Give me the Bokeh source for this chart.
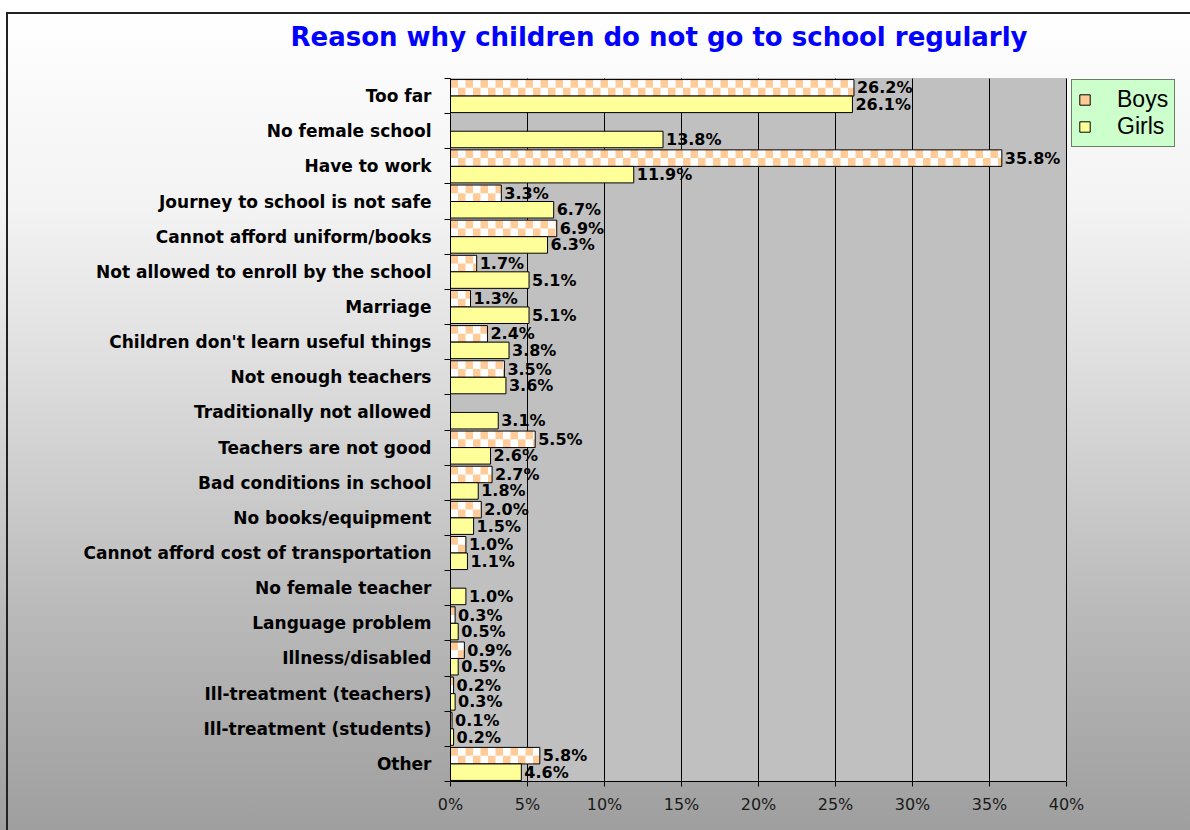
from bokeh.plotting import figure
from bokeh.models import (ColumnDataSource, Range1d, FixedTicker, NumeralTickFormatter,
                          LabelSet, Legend, LegendItem, BoxAnnotation)
from bokeh.core.properties import value
from bokeh.embed import file_html
from bokeh.resources import INLINE

title_text = "Reason why children do not go to school regularly"

categories = [
    "Too far",
    "No female school",
    "Have to work",
    "Journey to school is not safe",
    "Cannot afford uniform/books",
    "Not allowed to enroll by the school",
    "Marriage",
    "Children don't learn useful things",
    "Not enough teachers",
    "Traditionally not allowed",
    "Teachers are not good",
    "Bad conditions in school",
    "No books/equipment",
    "Cannot afford cost of transportation",
    "No female teacher",
    "Language problem",
    "Illness/disabled",
    "Ill-treatment (teachers)",
    "Ill-treatment (students)",
    "Other",
]
boys = [26.2, None, 35.8, 3.3, 6.9, 1.7, 1.3, 2.4, 3.5, None,
        5.5, 2.7, 2.0, 1.0, None, 0.3, 0.9, 0.2, 0.1, 5.8]
girls = [26.1, 13.8, 11.9, 6.7, 6.3, 5.1, 5.1, 3.8, 3.6, 3.1,
         2.6, 1.8, 1.5, 1.1, 1.0, 0.5, 0.5, 0.3, 0.2, 4.6]
x_ticks = [0.0, 0.05, 0.10, 0.15, 0.20, 0.25, 0.30, 0.35, 0.40]
X_MAX = 0.40

# layout (pixels)
W, H = 1190, 830
LEFT, BOTTOM, TOP = 450, 49, 52
PLOT_TOP = 78
PLOT_W = 616
PLOT_H = H - BOTTOM - PLOT_TOP      # grey plot area height
FRAME_W, FRAME_H = W - LEFT, H - BOTTOM - TOP

n = len(categories)
centers = [n - i - 0.5 for i in range(n)]
bounds = [float(b) for b in range(n + 1)]
BAR_H = 0.47
OFF = 0.235

px_x = PLOT_W / X_MAX
px_y = PLOT_H / n

bsrc = ColumnDataSource(dict(
    y=[c + OFF for c, v in zip(centers, boys) if v is not None],
    x=[v / 100 for v in boys if v is not None],
    lab=["%.1f%%" % v for v in boys if v is not None],
))
gsrc = ColumnDataSource(dict(
    y=[c - OFF for c in centers],
    x=[v / 100 for v in girls],
    lab=["%.1f%%" % v for v in girls],
))

# checker pattern cells inside the boys bars (2 rows, 7.5px wide cells)
SQ_X = 7.5
ROWS = 2
sx, sy = SQ_X / px_x, BAR_H / ROWS
ql, qr, qt, qb = [], [], [], []
for c, v in zip(centers, boys):
    if v is None:
        continue
    x1 = v / 100
    top = c + OFF + BAR_H / 2
    for r in range(ROWS):
        t = top - r * sy
        b = t - sy
        k = 0
        while k * sx < x1 - 1e-12:
            if (r + k) % 2 == 0:
                ql.append(k * sx)
                qr.append(min((k + 1) * sx, x1))
                qt.append(t)
                qb.append(b)
            k += 1
qsrc = ColumnDataSource(dict(left=ql, right=qr, top=qt, bottom=qb))

p = figure(width=W, height=H, output_backend="svg", toolbar_location=None,
           x_range=Range1d(0, X_MAX * FRAME_W / PLOT_W),
           y_range=Range1d(0, n * FRAME_H / PLOT_H),
           min_border_left=LEFT, min_border_right=0, min_border_top=TOP,
           min_border_bottom=BOTTOM)
p.styles = {
    "background": (
        "linear-gradient(#222222, #222222) 6px 12px / 100% 2px no-repeat, "
        "linear-gradient(#222222, #222222) 6px 12px / 2px 100% no-repeat, "
        "linear-gradient(to bottom, #ffffff 0px, #ffffff 14px, #fbfbfb 68px, "
        "#f3f3f3 208px, #e2e2e2 338px, #cfcfcf 468px, #bababa 608px, "
        "#a6a6a6 768px, #9f9f9f 830px)"
    )
}
p.border_fill_color = None
p.background_fill_color = None
p.outline_line_color = None

# title
p.title.text = title_text
p.title.align = "left"
p.title.offset = -160
p.title.vertical_align = "middle"
p.title.standoff = 0
p.title.text_font = "DejaVu Sans"
p.title.text_font_style = "bold"
p.title.text_font_size = "26px"
p.title.text_color = "#0000ff"

p.add_layout(BoxAnnotation(left=0, right=X_MAX, bottom=0, top=n,
                           fill_color="#c0c0c0", fill_alpha=1,
                           line_color="#808080", line_width=1, level="image"))

# vertical grid lines at the x ticks
p.segment(x0=x_ticks, x1=x_ticks, y0=[0] * len(x_ticks), y1=[n] * len(x_ticks),
          line_color="black", line_width=1)

rb_fill = p.hbar(y="y", left=0, right="x", height=BAR_H, source=bsrc,
                 fill_color="white", line_color=None)
rq = p.quad(left="left", right="right", top="top", bottom="bottom", source=qsrc,
            fill_color="#ffcc99", line_color=None)
rb_line = p.hbar(y="y", left=0, right="x", height=BAR_H, source=bsrc,
                 fill_color=None, line_color="black", line_width=1)
rg = p.hbar(y="y", left=0, right="x", height=BAR_H, source=gsrc,
            fill_color="#ffff99", line_color="black", line_width=1)

for src in (bsrc, gsrc):
    p.add_layout(LabelSet(x="x", y="y", text="lab", source=src, x_offset=3,
                          text_baseline="middle", text_align="left",
                          text_font=value("DejaVu Sans"), text_font_style="bold",
                          text_font_size="16px", text_color="black"))

# axes
xa = p.xaxis[0]
xa.ticker = FixedTicker(ticks=x_ticks)
xa.formatter = NumeralTickFormatter(format="0%")
xa.bounds = (0, X_MAX)
xa.major_tick_out = 5
xa.major_tick_in = 0
xa.minor_tick_out = 0
xa.minor_tick_in = 0
xa.axis_line_color = "black"
xa.major_tick_line_color = "black"
xa.major_label_text_font = "DejaVu Sans"
xa.major_label_text_font_size = "16px"
xa.major_label_text_color = "#1a1a1a"
xa.major_label_standoff = 8

ya = p.yaxis[0]
ya.ticker = FixedTicker(ticks=centers, minor_ticks=bounds)
ya.major_label_overrides = {c: name for c, name in zip(centers, categories)}
ya.bounds = (0, n)
ya.major_tick_out = 0
ya.major_tick_in = 0
ya.minor_tick_out = 6
ya.minor_tick_in = 0
ya.minor_tick_line_color = "black"
ya.axis_line_color = "black"
ya.major_label_text_font = "DejaVu Sans"
ya.major_label_text_font_style = "bold"
ya.major_label_text_font_size = "17px"
ya.major_label_text_color = "black"
ya.major_label_standoff = 13

p.xgrid.visible = False
p.ygrid.visible = False

LEG_H = 69
legend = Legend(items=[LegendItem(label="Boys", renderers=[rb_fill, rq, rb_line]),
                       LegendItem(label="Girls", renderers=[rg])],
                location=(1071 - LEFT, PLOT_H - LEG_H), orientation="vertical",
                background_fill_color="#ccffcc", background_fill_alpha=1,
                border_line_color="black", border_line_width=1,
                label_text_font="Liberation Sans", label_text_font_size="23px",
                label_text_color="black", glyph_width=13, glyph_height=13,
                label_standoff=26, padding=6, spacing=0, margin=0)
p.add_layout(legend)

open("out.html", "w").write(file_html(p, INLINE))
